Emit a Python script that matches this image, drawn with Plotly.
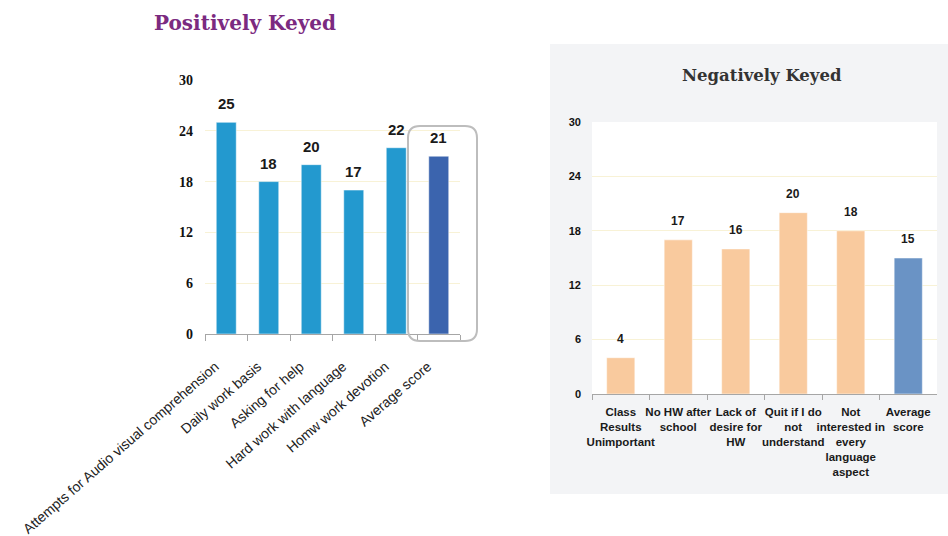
import plotly.graph_objects as go

# Positively keyed items
pos_items = [
    "Attempts for Audio visual comprehension",
    "Daily work basis",
    "Asking for help",
    "Hard work with language",
    "Homw work devotion",
    "Average score",
]
pos_scores = [25, 18, 20, 17, 22, 21]

# Negatively keyed items
neg_items = [
    "Class<br>Results<br>Unimportant",
    "No HW after<br>school",
    "Lack of<br>desire for<br>HW",
    "Quit if I do<br>not<br>understand",
    "Not<br>interested in<br>every<br>language<br>aspect",
    "Average<br>score",
]
neg_scores = [4, 17, 16, 20, 18, 15]

y_ticks = [0, 6, 12, 18, 24, 30]

W, H = 948, 536


def px_x(p):
    return p / W


def px_y(p):
    return 1 - p / H


pos_colors = ["#2399CF"] * (len(pos_scores) - 1) + ["#3B64AE"]
neg_colors = ["#F9CA9E"] * (len(neg_scores) - 1) + ["#6A93C5"]

fig = go.Figure()

fig.add_trace(go.Bar(
    x=pos_items, y=pos_scores, width=0.47,
    marker=dict(color=pos_colors, line=dict(color="rgba(255,255,255,0.5)", width=1)),
    xaxis="x", yaxis="y", showlegend=False, hoverinfo="x+y",
))
fig.add_trace(go.Bar(
    x=neg_items, y=neg_scores, width=0.49,
    marker=dict(color=neg_colors, line=dict(color="rgba(255,255,255,0.5)", width=1)),
    xaxis="x2", yaxis="y2", showlegend=False, hoverinfo="y",
))

annotations = []
for cat, v in zip(pos_items, pos_scores):
    annotations.append(dict(
        x=cat, y=v, xref="x", yref="y", text=str(v), showarrow=False,
        yanchor="bottom", yshift=8,
        font=dict(family="Liberation Sans", size=15, color="#1a1a1a", weight="bold"),
    ))
for cat, v in zip(neg_items, neg_scores):
    annotations.append(dict(
        x=cat, y=v, xref="x2", yref="y2", text=str(v), showarrow=False,
        yanchor="bottom", yshift=10,
        font=dict(family="Liberation Sans", size=12, color="#1a1a1a", weight="bold"),
    ))

# Chart titles
annotations.append(dict(
    x=px_x(245), y=px_y(23), xref="paper", yref="paper",
    xanchor="center", yanchor="middle",
    text="<b>Positively Keyed</b>", showarrow=False,
    font=dict(family="DejaVu Serif", size=20, color="#7B2A80"),
))
annotations.append(dict(
    x=px_x(762), y=px_y(76), xref="paper", yref="paper",
    xanchor="center", yanchor="middle",
    text="<b>Negatively Keyed</b>", showarrow=False,
    font=dict(family="DejaVu Serif", size=16.5, color="#333333"),
))

# Rounded highlight frame around the positive average bar
x0, x1, y0, y1, r = px_x(408), px_x(477), px_y(341), px_y(126), 12
rx, ry = r / W, r / H
frame = (
    f"M {x0 + rx},{y1} L {x1 - rx},{y1} Q {x1},{y1} {x1},{y1 - ry} "
    f"L {x1},{y0 + ry} Q {x1},{y0} {x1 - rx},{y0} "
    f"L {x0 + rx},{y0} Q {x0},{y0} {x0},{y0 + ry} "
    f"L {x0},{y1 - ry} Q {x0},{y1} {x0 + rx},{y1} Z"
)

shapes = [
    # grey panel behind the negative chart
    dict(type="rect", xref="paper", yref="paper", layer="below",
         x0=px_x(550), x1=1, y0=px_y(494), y1=px_y(44),
         fillcolor="#F3F4F6", line=dict(width=0)),
    # white plotting area of the negative chart
    dict(type="rect", xref="paper", yref="paper", layer="below",
         x0=px_x(592), x1=px_x(937), y0=px_y(394), y1=px_y(122),
         fillcolor="white", line=dict(width=0)),
    dict(type="path", xref="paper", yref="paper", path=frame,
         line=dict(color="#BDBDBD", width=2), fillcolor="rgba(0,0,0,0)"),
]

grid_color = "#F8F2D6"
axis_color = "#A6A6A6"

fig.update_layout(
    width=W, height=H, autosize=False,
    margin=dict(l=0, r=0, t=0, b=0, pad=0, autoexpand=False),
    paper_bgcolor="white", plot_bgcolor="rgba(0,0,0,0)",
    bargap=0.5,
    shapes=shapes, annotations=annotations,
    xaxis=dict(
        domain=[px_x(205), px_x(460)], anchor="y", automargin=False,
        type="category", tickangle=-41,
        tickfont=dict(family="Liberation Sans", size=14, color="#222222"),
        showline=True, linecolor=axis_color, linewidth=1,
        ticks="outside", tickson="boundaries", ticklen=6, tickcolor=axis_color,
        ticklabelstandoff=18, ticklabelshift=-11,
        showgrid=False, fixedrange=True,
    ),
    yaxis=dict(
        domain=[px_y(334), px_y(80)], anchor="x", automargin=False,
        range=[0, 30], tickvals=y_ticks,
        tickfont=dict(family="Liberation Serif", size=14, color="#111111", weight="bold"),
        showgrid=True, gridcolor=grid_color, gridwidth=1,
        zeroline=False, showline=False, ticks="", ticklabelstandoff=11,
        fixedrange=True,
    ),
    xaxis2=dict(
        domain=[px_x(592), px_x(937)], anchor="y2", automargin=False,
        type="category", tickangle=0,
        tickfont=dict(family="Liberation Sans", size=11.5, color="#1a1a1a", weight="bold"),
        showline=True, linecolor=axis_color, linewidth=1,
        ticks="outside", tickson="boundaries", ticklen=5, tickcolor=axis_color,
        ticklabelstandoff=7,
        showgrid=False, fixedrange=True,
    ),
    yaxis2=dict(
        domain=[px_y(394), px_y(122)], anchor="x2", automargin=False,
        range=[0, 30], tickvals=y_ticks,
        tickfont=dict(family="Liberation Sans", size=11, color="#111111", weight="bold"),
        showgrid=True, gridcolor=grid_color, gridwidth=1,
        zeroline=False, showline=False, ticks="", ticklabelstandoff=10,
        fixedrange=True,
    ),
)

fig.write_html("out.html")
